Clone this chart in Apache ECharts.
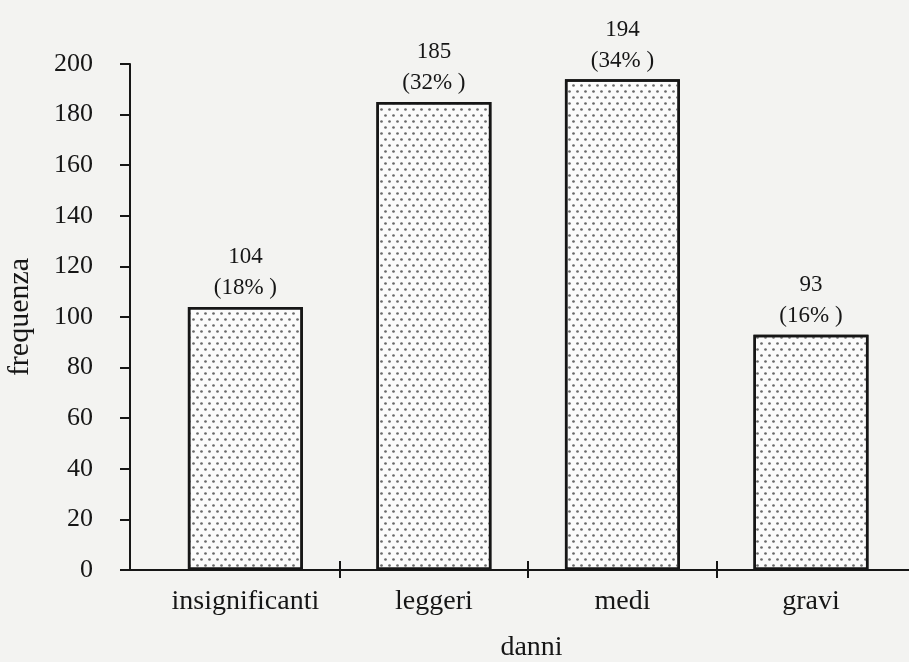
<!DOCTYPE html>
<html><head><meta charset="utf-8">
<script src="https://cdn.jsdelivr.net/npm/echarts@6/dist/echarts.min.js"></script>
<style>html,body{margin:0;padding:0;background:#f3f3f1}#c{width:909px;height:662px}</style>
</head><body><div id="c"></div>
<script>
const categories = ['insignificanti', 'leggeri', 'medi', 'gravi'];
const values = [104, 185, 194, 93];
const percents = ['18%', '32%', '34%', '16%'];
const yTicks = [0, 20, 40, 60, 80, 100, 120, 140, 160, 180, 200];

const FONT = 'Liberation Serif';
const INK = '#161616';
const chart = echarts.init(document.getElementById('c'));
const data = values.map((v, i) => [i, v]);
chart.setOption({
  backgroundColor: '#f3f3f1',
  animation: false,
  grid: { left: 130, right: 0, top: 64, bottom: 92, containLabel: false, outerBoundsMode: 'none' },
  xAxis: [{
    type: 'value', min: -0.612, max: 3.52,
    name: 'danni', nameLocation: 'middle', nameGap: 64,
    nameTextStyle: { fontFamily: FONT, fontSize: 28, color: INK, padding: [0, 0, 0, 24] },
    axisLine: { onZero: false, lineStyle: { color: INK, width: 2 } },
    axisTick: { show: true, length: 8, customValues: [0.5, 1.5, 2.5], lineStyle: { color: INK, width: 2 } },
    axisLabel: { customValues: [0, 1, 2, 3], formatter: v => categories[Math.round(v)], margin: 18,
      fontFamily: FONT, fontSize: 28, color: INK },
    splitLine: { show: false }
  }, {
    type: 'value', min: -0.612, max: 3.52, position: 'bottom', offset: 0,
    axisLine: { show: false, onZero: false },
    axisTick: { show: true, inside: true, length: 9, customValues: [0.5, 1.5, 2.5], lineStyle: { color: INK, width: 2 } },
    axisLabel: { show: false }, splitLine: { show: false }
  }],
  yAxis: {
    type: 'value', min: 0, max: 200, interval: 20,
    name: 'frequenza', nameLocation: 'middle', nameGap: 95, nameRotate: 90,
    nameTextStyle: { fontFamily: FONT, fontSize: 30, color: INK },
    axisLine: { show: true, onZero: false, lineStyle: { color: INK, width: 2 } },
    axisTick: { show: true, length: 10, lineStyle: { color: INK, width: 2 } },
    axisLabel: { margin: 37, fontFamily: FONT, fontSize: 26, color: INK,
      formatter: v => yTicks.includes(v) ? String(v) : '' },
    splitLine: { show: false }
  },
  series: [{
    type: 'bar', data: data, barWidth: 115, xAxisIndex: 0,
    itemStyle: {
      color: '#fbfbfb', borderColor: INK, borderWidth: 2.5,
      decal: {
        symbol: 'circle', symbolSize: 0.9, color: '#6a6a6a',
        dashArrayX: [[2.5, 4.2], [0, 3.35, 2.5, 0.85]], dashArrayY: [2.5, 2.8], rotation: 0
      }
    },
    label: {
      show: true, position: 'top', distance: 3,
      formatter: p => values[p.dataIndex] + '\n(' + percents[p.dataIndex] + ' )',
      fontFamily: FONT, fontSize: 23, color: INK, lineHeight: 31
    }
  }]
});
</script></body></html>
